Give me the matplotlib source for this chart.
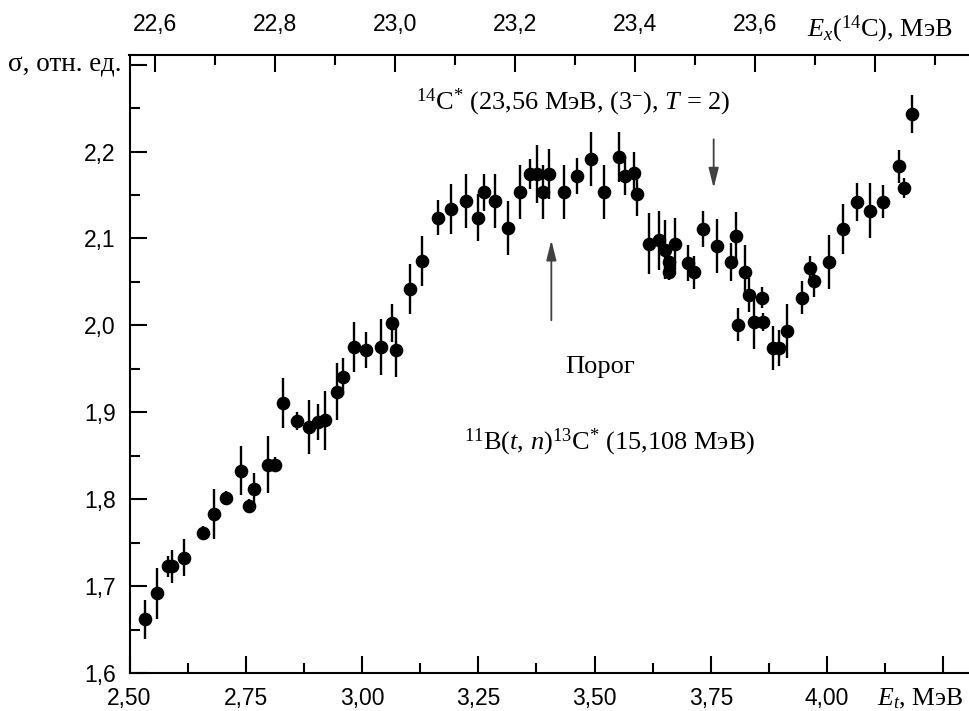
import numpy as np
import matplotlib
matplotlib.use("Agg")
import matplotlib.pyplot as plt
from matplotlib.ticker import FixedLocator, FuncFormatter

# Et (MeV), sigma (rel. units), error
e_t = [2.533, 2.560, 2.582, 2.592, 2.618, 2.659, 2.681, 2.708, 2.739, 2.757,
       2.767, 2.797, 2.813, 2.829, 2.861, 2.887, 2.905, 2.920, 2.946, 2.959,
       2.982, 3.008, 3.041, 3.064, 3.072, 3.104, 3.129, 3.164, 3.192, 3.223,
       3.250, 3.263, 3.286, 3.313, 3.340, 3.361, 3.377, 3.390, 3.403, 3.435,
       3.462, 3.493, 3.520, 3.552, 3.565, 3.585, 3.592, 3.618, 3.639, 3.651,
       3.661, 3.661, 3.672, 3.700, 3.713, 3.733, 3.763, 3.794, 3.804, 3.809,
       3.823, 3.831, 3.843, 3.859, 3.863, 3.883, 3.896, 3.913, 3.945, 3.963,
       3.972, 4.003, 4.034, 4.065, 4.092, 4.120, 4.155, 4.165, 4.182]
sigma = [1.662, 1.692, 1.723, 1.723, 1.733, 1.761, 1.783, 1.802, 1.833, 1.792,
         1.812, 1.840, 1.840, 1.911, 1.890, 1.883, 1.889, 1.891, 1.924, 1.941,
         1.975, 1.972, 1.975, 2.003, 1.972, 2.042, 2.074, 2.124, 2.134, 2.143,
         2.124, 2.153, 2.143, 2.112, 2.153, 2.174, 2.174, 2.153, 2.174, 2.153,
         2.172, 2.191, 2.153, 2.194, 2.172, 2.175, 2.151, 2.094, 2.098, 2.087,
         2.073, 2.062, 2.094, 2.072, 2.061, 2.111, 2.091, 2.073, 2.103, 2.001,
         2.061, 2.035, 2.004, 2.032, 2.004, 1.974, 1.974, 1.994, 2.032, 2.066,
         2.051, 2.073, 2.111, 2.142, 2.132, 2.142, 2.183, 2.158, 2.243]
err = [0.022, 0.029, 0.012, 0.019, 0.021, 0.008, 0.029, 0.008, 0.028, 0.008,
       0.018, 0.033, 0.009, 0.029, 0.010, 0.031, 0.021, 0.034, 0.033, 0.021,
       0.029, 0.021, 0.032, 0.022, 0.031, 0.029, 0.029, 0.020, 0.029, 0.031,
       0.027, 0.021, 0.031, 0.031, 0.031, 0.017, 0.033, 0.031, 0.029, 0.031,
       0.021, 0.031, 0.031, 0.029, 0.022, 0.025, 0.025, 0.035, 0.034, 0.034,
       0.012, 0.010, 0.030, 0.021, 0.019, 0.021, 0.031, 0.022, 0.028, 0.019,
       0.031, 0.020, 0.031, 0.012, 0.010, 0.025, 0.021, 0.031, 0.019, 0.014,
       0.018, 0.031, 0.029, 0.022, 0.032, 0.019, 0.019, 0.012, 0.022]

x_ticks = [2.50, 2.75, 3.00, 3.25, 3.50, 3.75, 4.00, 4.25]
y_ticks = [1.6, 1.7, 1.8, 1.9, 2.0, 2.1, 2.2, 2.3]
ex_ticks = [22.6, 22.8, 23.0, 23.2, 23.4, 23.6, 23.8]

# Ex(14C) = A * Et + B
A, B = 0.775, 20.620

threshold_et = 3.407
level_et = 3.756

plt.rcParams['mathtext.fontset'] = 'custom'
plt.rcParams['mathtext.rm'] = 'Liberation Serif'
plt.rcParams['mathtext.it'] = 'Liberation Serif:italic'

fig = plt.figure(figsize=(9.69, 7.11), dpi=100)
ax = fig.add_axes([129.5 / 969, 37.7 / 711, 839.5 / 969, 618.3 / 711])

ax.errorbar(e_t, sigma, yerr=err, fmt='o', color='black', ms=8.8,
            elinewidth=1.7, capsize=0)

ax.set_xlim(2.5, 4.305)
ax.set_ylim(1.6, 2.311)

tick_font = dict(family='Liberation Sans', size=16.5)
serif = 'Liberation Serif'


def comma(fmt, skip):
    def f(v, pos):
        if any(abs(v - s) < 1e-6 for s in skip):
            return ''
        return (fmt % v).replace('.', ',')
    return FuncFormatter(f)


ax.xaxis.set_major_locator(FixedLocator(x_ticks))
ax.xaxis.set_minor_locator(FixedLocator(np.arange(2.625, 4.3, 0.25)))
ax.xaxis.set_major_formatter(comma('%.2f', [4.25]))
ax.yaxis.set_major_locator(FixedLocator(y_ticks))
ax.yaxis.set_minor_locator(FixedLocator(np.arange(1.65, 2.3, 0.1)))
ax.yaxis.set_major_formatter(comma('%.1f', [2.3]))

ax.tick_params(which='both', direction='in', width=1.5, top=False, right=False)
ax.tick_params(which='major', length=12)
ax.tick_params(which='minor', length=7)
ax.tick_params(axis='x', pad=10)
ax.tick_params(axis='y', pad=10)
for lab in ax.get_xticklabels() + ax.get_yticklabels():
    lab.set_fontfamily(tick_font['family'])
    lab.set_fontsize(tick_font['size'])

for s in ['left', 'bottom']:
    ax.spines[s].set_linewidth(1.5)
ax.spines['right'].set_visible(False)
ax.spines['top'].set_visible(False)

sec = ax.secondary_xaxis('top', functions=(lambda e: A * e + B,
                                           lambda x: (x - B) / A))
sec.xaxis.set_major_locator(FixedLocator(ex_ticks))
sec.xaxis.set_minor_locator(FixedLocator(np.arange(22.7, 23.95, 0.2)))
sec.xaxis.set_major_formatter(comma('%.1f', [23.8]))
sec.tick_params(which='both', direction='in', width=1.5, pad=14)
sec.tick_params(which='major', length=12)
sec.tick_params(which='minor', length=7)
sec.spines['top'].set_linewidth(1.5)
for lab in sec.xaxis.get_ticklabels():
    lab.set_fontfamily(tick_font['family'])
    lab.set_fontsize(tick_font['size'])

# axis titles
fig.text(121.7 / 969, 1 - 71.7 / 711, 'σ, отн. ед.', family=serif, size=19.5,
         ha='right', va='baseline')
fig.text(953 / 969, 1 - 36 / 711, r'$E_x$($^{14}$C), МэВ', family=serif,
         size=19, ha='right', va='baseline')
fig.text(963 / 969, 1 - 705 / 711, r'$E_t$, МэВ', family=serif, size=18.5,
         ha='right', va='baseline')

# annotations
ax.text(3.454, 2.248, r'$^{14}$C$^{*}$ (23,56 МэВ, (3$^{-}$), $T$ = 2)',
        family=serif, size=19, ha='center', va='baseline')
ax.text(3.511, 1.945, 'Порог', family=serif, size=19, ha='center',
        va='baseline')
ax.text(3.532, 1.857, r'$^{11}$B($t$, $n$)$^{13}$C$^{*}$ (15,108 МэВ)',
        family=serif, size=19, ha='center', va='baseline')

arrow = dict(arrowstyle='-|>,head_length=1.0,head_width=0.25', color='0.25',
             lw=1.3, mutation_scale=12, shrinkA=0, shrinkB=0)
ax.annotate('', xy=(threshold_et, 2.098), xytext=(threshold_et, 2.006),
            arrowprops=arrow)
ax.annotate('', xy=(level_et, 2.158), xytext=(level_et, 2.214),
            arrowprops=arrow)

fig.savefig('out.png', dpi=100)
